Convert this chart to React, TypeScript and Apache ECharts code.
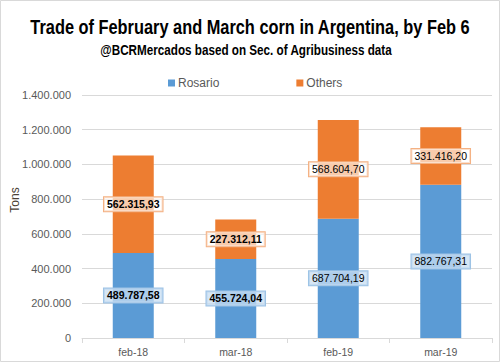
import React, { useEffect, useRef } from "react";
import * as echarts from "echarts";

const categories = ["feb-18", "mar-18", "feb-19", "mar-19"];
const rosario = [489787.58, 455724.04, 687704.19, 882767.31];
const others = [562315.93, 227312.11, 568604.7, 331416.2];
const boldLabels = [true, true, false, false];

const titleText = "Trade of February and March corn in Argentina, by Feb 6";
const subtitleText = "@BCRMercados based on Sec. of Agribusiness data";
const yAxisName = "Tons";

const fmt = (v: number) => {
  const [i, d] = v.toFixed(2).split(".");
  return i.replace(/\B(?=(\d{3})+(?!\d))/g, ".") + "," + d;
};
const fmtAxis = (v: number) => String(v).replace(/\B(?=(\d{3})+(?!\d))/g, ".");

const measure = (text: string, font: string) => {
  const c = document.createElement("canvas").getContext("2d");
  if (!c) return 1;
  c.font = font;
  return c.measureText(text).width || 1;
};

export default function App() {
  const ref = useRef<HTMLDivElement>(null);
  useEffect(() => {
    if (!ref.current) return;
    const chart = echarts.init(ref.current, undefined, { renderer: "svg" });
    const lib = "'Liberation Sans', Arial, sans-serif";
    const tSize = 20;
    const sSize = 15;
    const tW = measure(titleText, `bold ${tSize}px ${lib}`);
    const sW = measure(subtitleText, `bold ${sSize}px ${lib}`);
    const tScale = 440 / tW;
    const sScale = 292 / sW;
    chart.setOption({
      animation: false,
      backgroundColor: "#ffffff",
      legend: {
        top: 77,
        left: 168,
        padding: 0,
        itemWidth: 7,
        itemHeight: 7,
        itemGap: 77,
        icon: "rect",
        textStyle: { fontSize: 12, color: "#595959", fontFamily: lib, padding: [0, 0, 0, -2] },
        data: ["Rosario", "Others"],
      },
      graphic: [
        {
          type: "rect",
          shape: { x: 0.5, y: 0.5, width: 499, height: 361 },
          style: { fill: "none", stroke: "#d9d9d9", lineWidth: 1 },
          silent: true,
        },
        {
          type: "text",
          x: 250,
          y: 27,
          scaleX: tScale,
          style: {
            text: titleText,
            font: `bold ${tSize}px ${lib}`,
            fill: "#000000",
            align: "center",
            verticalAlign: "middle",
          },
        },
        {
          type: "text",
          x: 246,
          y: 50,
          scaleX: sScale,
          style: {
            text: subtitleText,
            font: `bold ${sSize}px ${lib}`,
            fill: "#000000",
            align: "center",
            verticalAlign: "middle",
          },
        },
        {
          type: "text",
          x: 15,
          y: 200,
          rotation: Math.PI / 2,
          style: {
            text: yAxisName,
            font: `12px ${lib}`,
            fill: "#4a3f35",
            align: "center",
            verticalAlign: "middle",
          },
        },
      ],
      grid: { left: 82, right: 8, top: 95, bottom: 24, containLabel: false, outerBoundsMode: "none" },
      xAxis: {
        type: "category",
        data: categories,
        axisLine: { lineStyle: { color: "#d9d9d9" } },
        axisTick: { show: true, length: 5, lineStyle: { color: "#d9d9d9" } },
        axisLabel: { color: "#595959", fontSize: 10.5, margin: 8, fontFamily: lib },
      },
      yAxis: {
        type: "value",
        min: 0,
        max: 1400000,
        interval: 200000,
        axisLine: { show: false },
        axisTick: { show: false },
        splitLine: { lineStyle: { color: "#d9d9d9" } },
        axisLabel: {
          color: "#595959",
          fontSize: 11,
          margin: 11,
          fontFamily: lib,
          formatter: (v: number) => fmtAxis(v),
        },
      },
      series: [
        {
          name: "Rosario",
          type: "bar",
          stack: "total",
          barWidth: "40%",
          itemStyle: { color: "#5b9bd5" },
          data: rosario.map((v, i) => ({
            value: v,
            label: { fontWeight: boldLabels[i] ? "bold" : "normal" },
          })),
          label: {
            show: true,
            position: "inside",
            formatter: (p: any) => fmt(p.value),
            color: "#000000",
            fontSize: 10.5,
            fontFamily: lib,
            backgroundColor: "rgba(200,222,242,0.75)",
            borderColor: "#9dc3e6",
            borderWidth: 1,
            padding: [2, 3, 1, 3],
          },
        },
        {
          name: "Others",
          type: "bar",
          stack: "total",
          barWidth: "40%",
          itemStyle: { color: "#ed7d31" },
          data: others.map((v, i) => ({
            value: v,
            label: { fontWeight: boldLabels[i] ? "bold" : "normal" },
          })),
          label: {
            show: true,
            position: "inside",
            formatter: (p: any) => fmt(p.value),
            color: "#000000",
            fontSize: 10.5,
            fontFamily: lib,
            backgroundColor: "rgba(255,255,255,0.6)",
            borderColor: "#f4b183",
            borderWidth: 1,
            padding: [2, 3, 1, 3],
          },
        },
      ],
    });
    return () => chart.dispose();
  }, []);
  return (
    <div
      ref={ref}
      style={{ position: "absolute", left: 0, top: 0, width: 500, height: 362 }}
    />
  );
}
